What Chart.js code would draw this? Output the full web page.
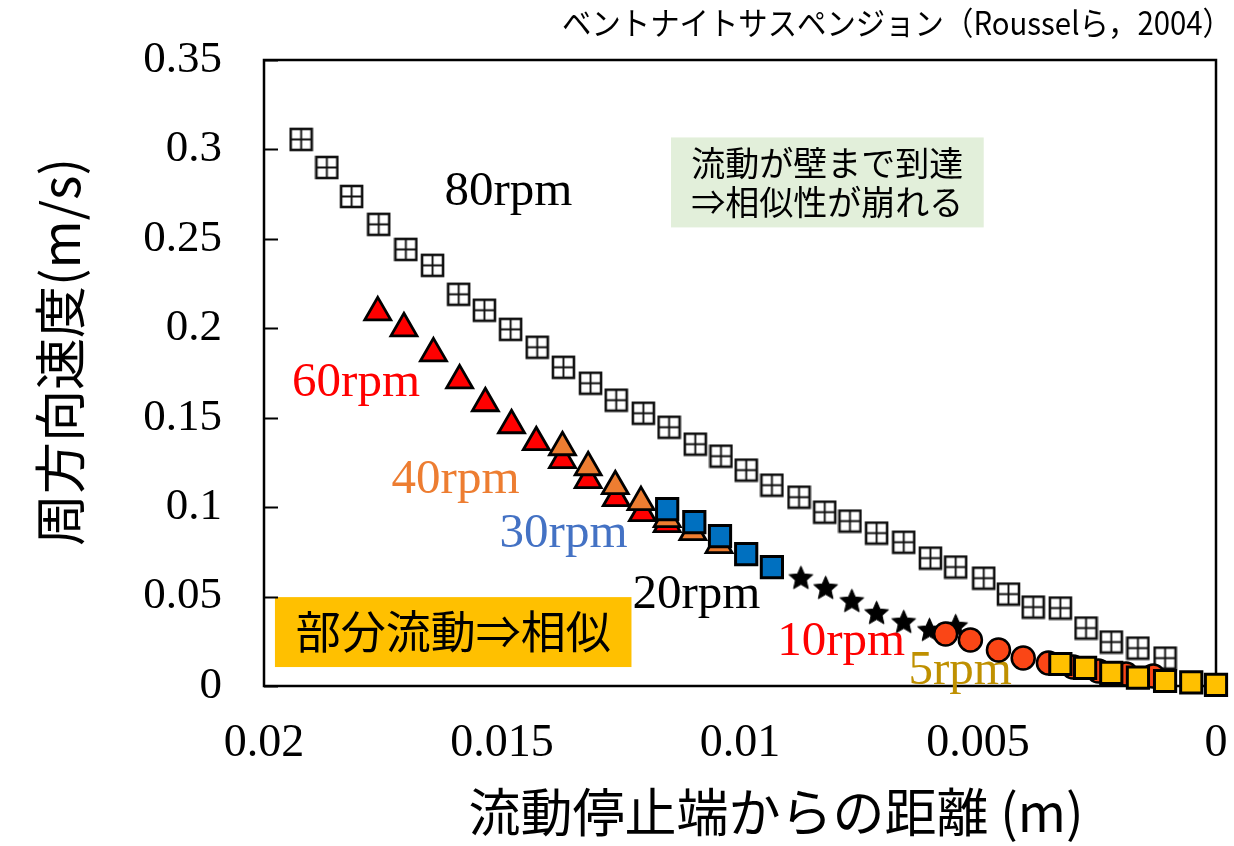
<!DOCTYPE html>
<html lang="ja">
<head>
<meta charset="utf-8">
<title>ベントナイトサスペンジョン 周方向速度分布</title>
<script src="https://cdn.jsdelivr.net/npm/chart.js@4.4.1/dist/chart.umd.min.js"></script>
<style>
  html, body { margin: 0; padding: 0; background: #ffffff; }
  #wrap { width: 1234px; height: 846px; position: relative; }
</style>
</head>
<body>
<div id="wrap"><canvas id="chart" width="1234" height="846"></canvas></div>
<script>
// ---- measured circumferential velocity (m/s) vs distance from the flow-stop front (m) ----
const rpm80Dist = [0.01922, 0.01868, 0.01816, 0.01759, 0.01702, 0.01646, 0.01591, 0.01537, 0.01482, 0.01426,
                   0.01371, 0.01314, 0.01260, 0.01203, 0.01149, 0.01094, 0.01040, 0.00987, 0.00933, 0.00876,
                   0.00822, 0.00769, 0.00713, 0.00656, 0.00600, 0.00547, 0.00488, 0.00436, 0.00384, 0.00327,
                   0.00273, 0.00220, 0.00164, 0.00107];
const rpm80Vel  = [0.3056, 0.2899, 0.2737, 0.2581, 0.2441, 0.2352, 0.2190, 0.2101, 0.1994, 0.1894,
                   0.1782, 0.1693, 0.1598, 0.1525, 0.1447, 0.1352, 0.1285, 0.1207, 0.1123, 0.1056,
                   0.0972, 0.0922, 0.0855, 0.0804, 0.0715, 0.0665, 0.0603, 0.0514, 0.0441, 0.0436,
                   0.0324, 0.0246, 0.0212, 0.0156];

const rpm60Dist = [0.01761, 0.01706, 0.01644, 0.01589, 0.01535, 0.01480, 0.01428, 0.01373, 0.01319, 0.01260, 0.01205, 0.01153];
const rpm60Vel  = [0.2089, 0.2000, 0.1860, 0.1709, 0.1581, 0.1458, 0.1363, 0.1263, 0.1151, 0.1050, 0.0966, 0.0905];

const rpm40Dist = [0.01373, 0.01319, 0.01262, 0.01208, 0.01153, 0.01099, 0.01044];
const rpm40Vel  = [0.1335, 0.1223, 0.1117, 0.1028, 0.0933, 0.0860, 0.0788];

const rpm30Dist = [0.01153, 0.01096, 0.01042, 0.00987, 0.00933];
const rpm30Vel  = [0.0989, 0.0916, 0.0838, 0.0737, 0.0665];

const rpm20Dist = [0.00872, 0.00820, 0.00765, 0.00713, 0.00656, 0.00602, 0.00547];
const rpm20Vel  = [0.0609, 0.0553, 0.0480, 0.0413, 0.0363, 0.0318, 0.0340];

const rpm10Dist = [0.00568, 0.00516, 0.00457, 0.00405, 0.00352, 0.00300, 0.00247, 0.00189, 0.00132];
const rpm10Vel  = [0.0291, 0.0257, 0.0201, 0.0156, 0.0128, 0.0106, 0.0084, 0.0067, 0.0056];

const rpm5Dist  = [0.00327, 0.00275, 0.00220, 0.00164, 0.00107, 0.00052, 0.00000];
const rpm5Vel   = [0.0123, 0.0101, 0.0073, 0.0047, 0.0028, 0.0020, 0.0006];

// ---- tick labels ----
const xTickLabels = ['0', '0.005', '0.01', '0.015', '0.02'];
const yTickLabels = ['0', '0.05', '0.1', '0.15', '0.2', '0.25', '0.3', '0.35'];

// ---- text ----
const chartTitle  = 'ベントナイトサスペンジョン（Rousselら，2004）';
const xAxisTitle  = '流動停止端からの距離 (m)';
const yAxisTitle  = '周方向速度(m/s)';

const SERIF = '"Liberation Serif", "Times New Roman", serif';
const SANS  = '"Noto Sans CJK JP", "Noto Sans", sans-serif';

// series name labels, anchored in data units (left edge, baseline)
const seriesNotes = [
  { text: '80rpm', x: 0.01621, y: 0.2687, color: '#000000' },
  { text: '60rpm', x: 0.01941, y: 0.1620, color: '#ff0000' },
  { text: '40rpm', x: 0.01732, y: 0.1078, color: '#ed7d31' },
  { text: '30rpm', x: 0.01505, y: 0.0777, color: '#4472c4' },
  { text: '20rpm', x: 0.01226, y: 0.0436, color: '#000000' },
  { text: '10rpm', x: 0.00922, y: 0.0176, color: '#ff0000' },
  { text: '5rpm',  x: 0.00646, y: 0.0012, color: '#bf9000' }
];

// callout boxes, corners in data units
const callouts = [
  { lines: ['流動が壁まで到達', '⇒相似性が崩れる'], x0: 0.01145, x1: 0.00488, y0: 0.3067, y1: 0.2564,
    fill: '#e2efda', font: '34px ' + SANS, lineGap: 39 },
  { lines: ['部分流動⇒相似'], x0: 0.01977, x1: 0.01228, y0: 0.0497, y1: 0.0106,
    fill: '#ffc000', font: '45px ' + SANS, lineGap: 0 }
];

// ---- marker glyphs ----
function gridSquare(side) {
  const pad = 2;
  const c = document.createElement('canvas');
  c.width = side + pad * 2; c.height = side + pad * 2;
  const g = c.getContext('2d');
  g.fillStyle = '#ffffff';
  g.fillRect(pad, pad, side, side);
  g.strokeStyle = '#111111';
  g.lineWidth = 2.6;
  g.strokeRect(pad, pad, side, side);
  g.lineWidth = 1.9;
  g.beginPath();
  g.moveTo(pad + side / 2, pad); g.lineTo(pad + side / 2, pad + side);
  g.moveTo(pad, pad + side / 2); g.lineTo(pad + side, pad + side / 2);
  g.stroke();
  return c;
}

function filledStar(outer) {
  const inner = outer * 0.46;
  const size = Math.ceil(outer * 2 + 4);
  const c = document.createElement('canvas');
  c.width = size; c.height = size;
  const g = c.getContext('2d');
  const cx = size / 2, cy = size / 2 + 1.5;
  g.beginPath();
  for (let i = 0; i < 10; i++) {
    const r = i % 2 === 0 ? outer : inner;
    const a = -Math.PI / 2 + i * Math.PI / 5;
    const px = cx + r * Math.cos(a), py = cy + r * Math.sin(a);
    if (i === 0) g.moveTo(px, py); else g.lineTo(px, py);
  }
  g.closePath();
  g.fillStyle = '#000000';
  g.fill();
  g.strokeStyle = '#000000';
  g.lineWidth = 1;
  g.stroke();
  return c;
}

const pairs = (xs, ys) => xs.map((v, i) => ({ x: v, y: ys[i] }));

// ---- title, frame, inner ticks, series labels, callouts, axis titles ----
const decorations = {
  id: 'decorations',
  beforeDatasetsDraw(chart) {
    const { ctx, chartArea: a, scales: { x, y } } = chart;
    ctx.save();

    // source title, right-aligned above the plot, slightly condensed
    ctx.fillStyle = '#000000';
    ctx.font = '32px ' + SANS;
    ctx.textAlign = 'left';
    ctx.textBaseline = 'middle';
    const tw = ctx.measureText(chartTitle).width;
    const target = 670;
    ctx.save();
    ctx.translate(1232 - target, 23);
    ctx.scale(target / tw, 1);
    ctx.fillText(chartTitle, 0, 0);
    ctx.restore();

    // callout boxes
    callouts.forEach(b => {
      const L = x.getPixelForValue(b.x0), R = x.getPixelForValue(b.x1);
      const T = y.getPixelForValue(b.y0), B = y.getPixelForValue(b.y1);
      ctx.fillStyle = b.fill;
      ctx.fillRect(L, T, R - L, B - T);
      ctx.fillStyle = '#000000';
      ctx.font = b.font;
      ctx.textAlign = 'center';
      ctx.textBaseline = 'middle';
      const cx = (L + R) / 2, cy = (T + B) / 2;
      const n = b.lines.length;
      b.lines.forEach((t, i) => ctx.fillText(t, cx, cy + (i - (n - 1) / 2) * b.lineGap));
    });

    // plot frame
    ctx.strokeStyle = '#000000';
    ctx.lineWidth = 2.5;
    ctx.strokeRect(a.left, a.top, a.right - a.left, a.bottom - a.top);

    // inward tick marks on the velocity axis
    ctx.lineWidth = 2;
    y.ticks.forEach(t => {
      const py = Math.round(y.getPixelForValue(t.value)) + 0.5;
      ctx.beginPath();
      ctx.moveTo(a.left, py);
      ctx.lineTo(a.left + 14, py);
      ctx.stroke();
    });

    // series name labels
    ctx.font = '49px ' + SERIF;
    ctx.textAlign = 'left';
    ctx.textBaseline = 'alphabetic';
    seriesNotes.forEach(n => {
      ctx.fillStyle = n.color;
      ctx.fillText(n.text, x.getPixelForValue(n.x), y.getPixelForValue(n.y));
    });

    // axis titles
    ctx.fillStyle = '#000000';
    ctx.textAlign = 'center';
    ctx.textBaseline = 'middle';
    ctx.font = '52px ' + SANS;
    ctx.fillText(xAxisTitle, 776, 812);
    ctx.save();
    ctx.translate(60, 352);
    ctx.rotate(-Math.PI / 2);
    ctx.font = '52px ' + SANS;
    ctx.fillText(yAxisTitle, 0, 0);
    ctx.restore();

    ctx.restore();
  }
};

const markerBorder = '#000000';

new Chart(document.getElementById('chart'), {
  type: 'scatter',
  data: {
    datasets: [
      { label: '5rpm', data: pairs(rpm5Dist, rpm5Vel), order: 0,
        pointStyle: 'rect', pointRadius: 15, pointBackgroundColor: '#ffc000',
        pointBorderColor: markerBorder, pointBorderWidth: 3 },
      { label: '10rpm', data: pairs(rpm10Dist, rpm10Vel), order: 1,
        pointStyle: 'circle', pointRadius: 11.5, pointBackgroundColor: '#fa4616',
        pointBorderColor: markerBorder, pointBorderWidth: 2.5 },
      { label: '20rpm', data: pairs(rpm20Dist, rpm20Vel), order: 2,
        pointStyle: filledStar(12.5), pointRadius: 12 },
      { label: '30rpm', data: pairs(rpm30Dist, rpm30Vel), order: 3,
        pointStyle: 'rect', pointRadius: 15, pointBackgroundColor: '#0070c0',
        pointBorderColor: markerBorder, pointBorderWidth: 3 },
      { label: '40rpm', data: pairs(rpm40Dist, rpm40Vel), order: 4,
        pointStyle: 'triangle', pointRadius: 15, pointBackgroundColor: '#ed7d31',
        pointBorderColor: markerBorder, pointBorderWidth: 2.8 },
      { label: '60rpm', data: pairs(rpm60Dist, rpm60Vel), order: 5,
        pointStyle: 'triangle', pointRadius: 15, pointBackgroundColor: '#ff0000',
        pointBorderColor: markerBorder, pointBorderWidth: 2.8 },
      { label: '80rpm', data: pairs(rpm80Dist, rpm80Vel), order: 6,
        pointStyle: gridSquare(21), pointRadius: 12 }
    ]
  },
  options: {
    responsive: false,
    animation: false,
    devicePixelRatio: 1,
    events: [],
    clip: false,
    layout: { padding: { left: 0, right: 16, top: 60, bottom: 0 } },
    plugins: {
      legend: { display: false },
      tooltip: { enabled: false },
      title: { display: false }
    },
    scales: {
      x: {
        type: 'linear',
        min: 0, max: 0.02,
        reverse: true,
        grid: { display: false, drawTicks: false },
        border: { display: false },
        ticks: {
          stepSize: 0.005,
          padding: 30,
          maxRotation: 0,
          color: '#000000',
          font: { family: SERIF, size: 46, lineHeight: 1.2 },
          callback: v => xTickLabels[Math.round(v / 0.005)]
        },
        afterFit: s => { s.height = 160; s.paddingLeft = 0; s.paddingRight = 0; }
      },
      y: {
        type: 'linear',
        min: 0, max: 0.35,
        grid: { display: false, drawTicks: false },
        border: { display: false },
        ticks: {
          stepSize: 0.05,
          padding: 42,
          color: '#000000',
          font: { family: SERIF, size: 45, lineHeight: 1.2 },
          callback: v => yTickLabels[Math.round(v / 0.05)]
        },
        afterFit: s => { s.width = 264; s.paddingTop = 0; s.paddingBottom = 0; }
      }
    }
  },
  plugins: [decorations]
});
</script>
</body>
</html>
